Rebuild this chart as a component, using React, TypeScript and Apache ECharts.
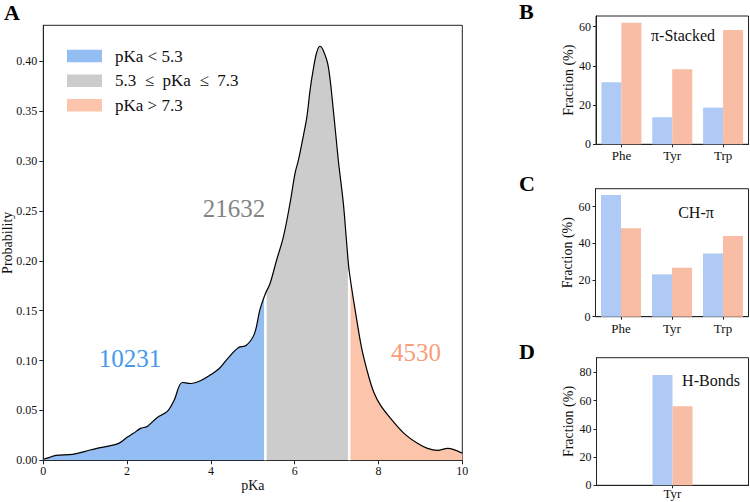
import React, { useEffect, useRef } from "react";
import * as echarts from "echarts";

// ---- Panel A data: probability density of pKa ----
const pkaX = [0.0, 0.15, 0.3, 0.7, 1.0, 1.28, 1.52, 1.8, 2.0, 2.15, 2.32, 2.48, 2.72, 2.96, 3.12, 3.32, 3.52, 3.76, 4.0, 4.2, 4.4, 4.66, 4.84, 5.04, 5.17, 5.3, 5.41, 5.57, 5.73, 5.89, 6.01, 6.09, 6.21, 6.29, 6.37, 6.44, 6.52, 6.6, 6.68, 6.8, 6.92, 7.04, 7.16, 7.24, 7.3, 7.48, 7.6, 7.76, 7.89, 8.05, 8.29, 8.61, 8.93, 9.17, 9.41, 9.65, 10.0];
const probY = [0.001, 0.003, 0.005, 0.006, 0.009, 0.012, 0.014, 0.017, 0.023, 0.027, 0.032, 0.034, 0.043, 0.049, 0.06, 0.078, 0.077, 0.08, 0.086, 0.092, 0.102, 0.113, 0.115, 0.127, 0.151, 0.167, 0.177, 0.201, 0.224, 0.258, 0.288, 0.301, 0.326, 0.344, 0.372, 0.391, 0.408, 0.415, 0.411, 0.395, 0.352, 0.301, 0.258, 0.218, 0.19, 0.141, 0.112, 0.085, 0.068, 0.055, 0.042, 0.027, 0.017, 0.012, 0.01, 0.012, 0.007];
const lowCut = 5.3;
const highCut = 7.3;
const xTicksA = [0, 2, 4, 6, 8, 10];
const yTicksA = [0, 0.05, 0.1, 0.15, 0.2, 0.25, 0.3, 0.35, 0.4];
const legendLabels = ["pKa < 5.3", "5.3  \u2264  pKa  \u2264  7.3", "pKa > 7.3"];
const countLabels = ["10231", "21632", "4530"];

// ---- Panels B, C, D: fraction bars ----
const catsBC = ["Phe", "Tyr", "Trp"];
const stackedBlue = [31.6, 13.8, 18.7];
const stackedSalmon = [62.0, 38.3, 58.3];
const chBlue = [66.4, 23.1, 34.5];
const chSalmon = [48.2, 26.7, 44.0];
const catsD = ["Tyr"];
const hbBlue = [78.1];
const hbSalmon = [55.9];
const yTicksB = [0, 20, 40, 60];
const yTicksC = [0, 20, 40, 60];
const yTicksD = [0, 20, 40, 60, 80];

const FONT = "Liberation Serif, Times New Roman, serif";
const BLUE = "#94BEF3";
const GRAY = "#CCCCCC";
const SALMON = "#FCC4AA";
const BAR_BLUE = "#AFCBF5";
const BAR_SALMON = "#F9BCA5";

function probAt(x: number): number {
  const i = pkaX.indexOf(x);
  return probY[i];
}

export default function App() {
  const ref = useRef<HTMLDivElement>(null);
  useEffect(() => {
    if (!ref.current) return;
    const chart = echarts.init(ref.current, null, { renderer: "svg" });
    const pts = pkaX.map((x, i) => [x, probY[i]]);
    const blue = pts.filter((p) => p[0] <= lowCut);
    const gray = pts.filter((p) => p[0] >= lowCut && p[0] <= highCut);
    const salmon = pts.filter((p) => p[0] >= highCut);
    const SM = 0.35;

    const fill = (data: number[][], color: string) => ({
      type: "line",
      xAxisIndex: 0,
      yAxisIndex: 0,
      data,
      smooth: SM,
      symbol: "none",
      lineStyle: { width: 0 },
      areaStyle: { color, opacity: 1 },
      silent: true,
      z: 2,
    });
    const sep = (x: number) => ({
      type: "line",
      xAxisIndex: 0,
      yAxisIndex: 0,
      data: [[x, 0], [x, probAt(x)]],
      symbol: "none",
      lineStyle: { color: "#ffffff", width: 2.5 },
      silent: true,
      z: 3,
    });

    const frameGrid = {
      show: true,
      borderColor: "#222",
      borderWidth: 1,
      backgroundColor: "transparent",
      containLabel: false,
      outerBoundsMode: "none",
    };
    const gridB = { left: 596, top: 16, width: 152.5, height: 128.3, ...frameGrid };
    const gridC = { left: 595.5, top: 188.7, width: 153, height: 128, ...frameGrid };
    const gridD = { left: 596.5, top: 357.7, width: 152, height: 127.6, ...frameGrid };

    const catAxis = (gridIndex: number, data: string[], margin: number) => ({
      type: "category",
      gridIndex,
      data,
      axisLine: { show: true, lineStyle: { color: "#222" } },
      axisTick: { show: true, alignWithLabel: true, length: 3, lineStyle: { color: "#222" } },
      axisLabel: { fontFamily: FONT, fontSize: 13, color: "#111", margin },
      splitLine: { show: false },
    });
    const valAxis = (gridIndex: number, max: number, ticks: number[]) => ({
      type: "value",
      gridIndex,
      min: 0,
      max,
      name: "Fraction (%)",
      nameLocation: "middle",
      nameGap: 21,
      nameMoveOverlap: false,
      nameTextStyle: { fontFamily: FONT, fontSize: 14, color: "#111" },
      axisLine: { show: true, lineStyle: { color: "#222" } },
      axisTick: { show: true, length: 3, customValues: ticks, lineStyle: { color: "#222" } },
      axisLabel: { fontFamily: FONT, fontSize: 12, color: "#111", margin: 5, customValues: ticks },
      splitLine: { show: false },
    });
    const bar = (idx: number, data: number[], color: string) => ({
      type: "bar",
      xAxisIndex: idx,
      yAxisIndex: idx,
      data,
      barWidth: 20,
      barGap: "0%",
      itemStyle: { color },
      silent: true,
    });

    const legendY = [56, 80.7, 105.3];
    const legendColors = [BLUE, GRAY, SALMON];
    const graphics: any[] = [];
    legendLabels.forEach((t, i) => {
      graphics.push({
        type: "rect",
        shape: { x: 67, y: legendY[i] - 6.3, width: 35, height: 12.6 },
        style: { fill: legendColors[i] },
      });
      graphics.push({
        type: "text",
        x: 115,
        y: legendY[i],
        style: { text: t, font: `17px ${FONT}`, fill: "#111", textAlign: "left", textVerticalAlign: "middle" },
      });
    });
    const countPos = [[130, 358, "#4499EE"], [234, 208, "#848484"], [416, 352, "#F89E7B"]];
    countLabels.forEach((t, i) => {
      graphics.push({
        type: "text",
        x: countPos[i][0],
        y: countPos[i][1],
        style: { text: t, font: `25px ${FONT}`, fill: countPos[i][2], textAlign: "center", textVerticalAlign: "middle" },
      });
    });
    const panelLetters = [["A", 4, 12.5], ["B", 519, 11], ["C", 519, 183.5], ["D", 519, 351.5]];
    panelLetters.forEach((p) => {
      graphics.push({
        type: "text",
        x: p[1],
        y: p[2],
        style: { text: p[0], font: `bold 22px ${FONT}`, fill: "#000", textAlign: "left", textVerticalAlign: "middle" },
      });
    });
    const panelTitles = [["\u03c0-Stacked", 683, 35], ["CH-\u03c0", 696, 212.7], ["H-Bonds", 711, 380]];
    panelTitles.forEach((p) => {
      graphics.push({
        type: "text",
        x: p[1],
        y: p[2],
        style: { text: p[0], font: `16px ${FONT}`, fill: "#111", textAlign: "center", textVerticalAlign: "middle" },
      });
    });

    chart.setOption({
      animation: false,
      backgroundColor: "#ffffff",
      grid: [
        { left: 43.3, top: 25.3, width: 419, height: 435, ...frameGrid },
        gridB,
        gridC,
        gridD,
      ],
      xAxis: [
        {
          type: "value",
          gridIndex: 0,
          min: 0,
          max: 10,
          interval: 2,
          name: "pKa",
          nameLocation: "middle",
          nameGap: 18,
          nameMoveOverlap: false,
          nameTextStyle: { fontFamily: FONT, fontSize: 14, color: "#111" },
          axisLine: { show: true, lineStyle: { color: "#222" } },
          axisTick: { show: true, length: 4, customValues: xTicksA, lineStyle: { color: "#222" } },
          axisLabel: { fontFamily: FONT, fontSize: 12, color: "#111", margin: 5, customValues: xTicksA },
          splitLine: { show: false },
        },
        catAxis(1, catsBC, 5),
        catAxis(2, catsBC, 5),
        catAxis(3, catsD, 2),
      ],
      yAxis: [
        {
          type: "value",
          gridIndex: 0,
          min: 0,
          max: 0.436,
          name: "Probability",
          nameLocation: "middle",
          nameGap: 29,
          nameMoveOverlap: false,
          nameTextStyle: { fontFamily: FONT, fontSize: 14, color: "#111" },
          axisLine: { show: true, lineStyle: { color: "#222" } },
          axisTick: { show: true, length: 4, customValues: yTicksA, lineStyle: { color: "#222" } },
          axisLabel: {
            fontFamily: FONT,
            fontSize: 12,
            color: "#111",
            margin: 6,
            customValues: yTicksA,
            formatter: (v: number) => v.toFixed(2),
          },
          splitLine: { show: false },
        },
        valAxis(1, 65.4, yTicksB),
        valAxis(2, 69.8, yTicksC),
        valAxis(3, 90.3, yTicksD),
      ],
      series: [
        fill(blue, BLUE),
        fill(gray, GRAY),
        fill(salmon, SALMON),
        sep(lowCut),
        sep(highCut),
        {
          type: "line",
          xAxisIndex: 0,
          yAxisIndex: 0,
          data: pts,
          smooth: SM,
          symbol: "none",
          lineStyle: { color: "#000", width: 1.2 },
          silent: true,
          z: 4,
        },
        bar(1, stackedBlue, BAR_BLUE),
        bar(1, stackedSalmon, BAR_SALMON),
        bar(2, chBlue, BAR_BLUE),
        bar(2, chSalmon, BAR_SALMON),
        bar(3, hbBlue, BAR_BLUE),
        bar(3, hbSalmon, BAR_SALMON),
      ],
      graphic: graphics,
    });
    return () => chart.dispose();
  }, []);
  return <div ref={ref} style={{ width: 750, height: 502, position: "absolute", left: 0, top: 0 }} />;
}
